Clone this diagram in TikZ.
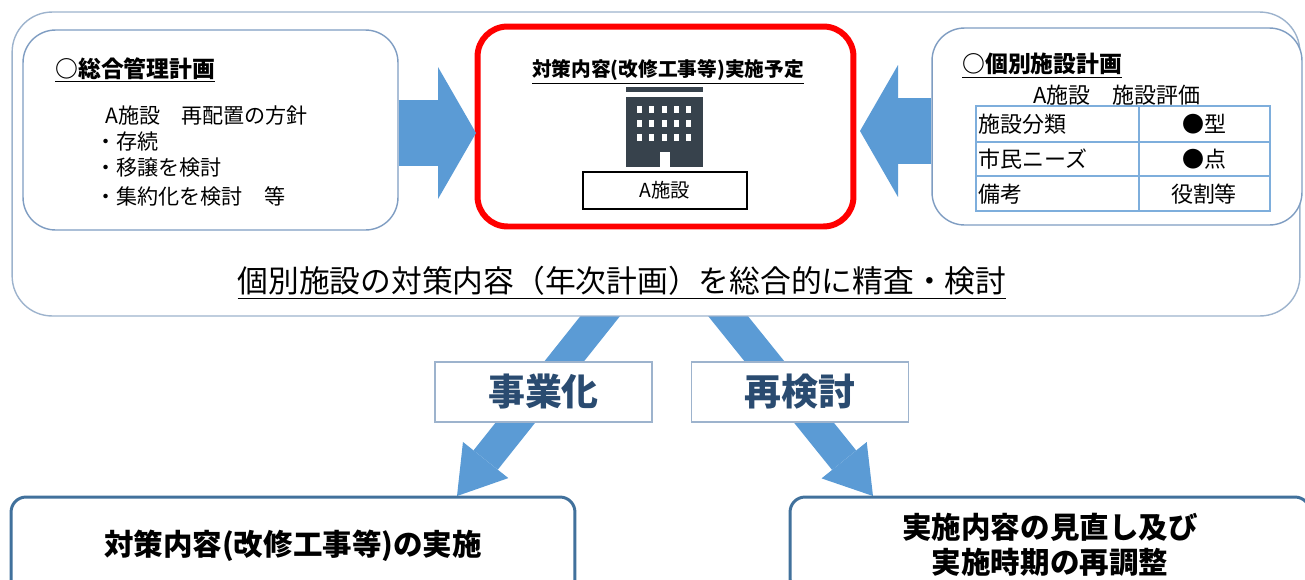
\documentclass[tikz,border=0pt]{standalone}
\usepackage{fontspec}
\setmainfont{Noto Sans CJK JP}
\usetikzlibrary{arrows.meta}
\usetikzlibrary{shapes}
\usetikzlibrary{backgrounds}

\definecolor{frameblue}{HTML}{9DB3CD}
\definecolor{planblue}{HTML}{7F9DC2}
\definecolor{arrowblue}{HTML}{5B9BD5}
\definecolor{tableblue}{HTML}{7EAEDC}
\definecolor{labelnavy}{HTML}{2A4B70}
\definecolor{boxblue}{HTML}{41719C}
\definecolor{iconslate}{HTML}{37424C}

\begin{document}
\begin{tikzpicture}[x = 0.02cm, y = -0.02cm]
	\tikzstyle{frameStyle} = [draw = frameblue, line width = 0.8pt, fill = white, rounded corners = 0.8cm, inner sep = 0]
	\tikzstyle{planStyle} = [draw = planblue, line width = 0.8pt, fill = white, rounded corners = 0.65cm, inner sep = 0]
	\tikzstyle{redStyle} = [draw = red, line width = 3.4pt, fill = white, rounded corners = 0.6cm, inner sep = 0]
	\tikzstyle{tagStyle} = [draw = frameblue, line width = 0.8pt, fill = white, inner sep = 0, minimum width = 4.34cm, minimum height = 1.2cm, text = labelnavy, font = \fontsize{21}{25}\selectfont\bfseries]
	\tikzstyle{resultStyle} = [draw = boxblue, line width = 1.7pt, fill = white, rounded corners = 0.3cm, inner sep = 0, align = center, font = \fontsize{16.8}{20}\selectfont\bfseries]
	\tikzstyle{textStyle} = [inner sep = 0, anchor = west]
	\tikzstyle{bigArrow} = [arrowblue, line width = 1.32cm, -{Triangle[length = 0.76cm, width = 2.64cm, line width = 0pt]}]
	\tikzstyle{downArrow} = [arrowblue, line width = 0.62cm, -{Triangle[length = 0.92cm, width = 1.16cm, line width = 0pt]}]
	\useasboundingbox (0,0) rectangle (1305,579);
	\clip (0,0) rectangle (1305,579);
	\node[frameStyle, minimum width = 25.76cm, minimum height = 6.08cm] (review) at (656,164) {};
	\node[planStyle, minimum width = 7.5cm, minimum height = 4.0cm] (lplan) at (210.5,130) {};
	\node[redStyle, minimum width = 7.52cm, minimum height = 4.0cm] (plan) at (665.5,126.5) {};
	\node[planStyle, minimum width = 7.4cm, minimum height = 3.94cm] (iplan) at (1117,126.5) {};
	\node[textStyle, font = \fontsize{13}{15}\selectfont\bfseries] (lplanTitle) at (55,70) {\underline{○総合管理計画}};
	\node[textStyle, font = \fontsize{12}{14}\selectfont] (policy) at (105,115) {A施設　再配置の方針};
	\node[textStyle, font = \fontsize{12}{14}\selectfont] (keep) at (95,141) {・存続};
	\node[textStyle, font = \fontsize{12}{14}\selectfont] (transfer) at (95,168) {・移譲を検討};
	\node[textStyle, font = \fontsize{12}{14}\selectfont] (merge) at (95,196) {・集約化を検討　等};
	\node[inner sep = 0, font = \fontsize{11.2}{13}\selectfont\bfseries] (planTitle) at (668,72) {\underline{対策内容(改修工事等)実施予定}};
	\fill[iconslate] (626,87) rectangle (703,91.5);
	\fill[iconslate] (626,97) rectangle (703,167);
	\foreach \i in {0,...,4}
		\foreach \j in {0,...,2}
			\fill[white] (637+12.3*\i,106+14*\j) rectangle ++(5,7);
	\fill[white] (659.5,152) rectangle (670,167.5);
	\node[draw, line width = 0.6pt, inner sep = 0, minimum width = 3.28cm, minimum height = 0.74cm, font = \fontsize{11}{13}\selectfont] (facility) at (665,190.5) {A施設};
	\node[textStyle, font = \fontsize{13}{15}\selectfont\bfseries] (iplanTitle) at (962,66) {\underline{○個別施設計画}};
	\node[inner sep = 0, font = \fontsize{12.5}{14}\selectfont] (rating) at (1117,95) {A施設　施設評価};
	\draw[tableblue, line width = 0.9pt] (976,106) rectangle (1270,211);
	\draw[tableblue, line width = 0.9pt] (976,142) -- (1270,142);
	\draw[tableblue, line width = 0.9pt] (976,176) -- (1270,176);
	\draw[tableblue, line width = 0.9pt] (1139,106) -- (1139,211);
	\node[textStyle, font = \fontsize{12.5}{14}\selectfont] (kindKey) at (978,124) {施設分類};
	\node[textStyle, font = \fontsize{12.5}{14}\selectfont] (needKey) at (978,159) {市民ニーズ};
	\node[textStyle, font = \fontsize{12.5}{14}\selectfont] (noteKey) at (978,194) {備考};
	\node[inner sep = 0, font = \fontsize{12.5}{14}\selectfont] (kindVal) at (1204,124) {●型};
	\node[inner sep = 0, font = \fontsize{12.5}{14}\selectfont] (needVal) at (1204,159) {●点};
	\node[inner sep = 0, font = \fontsize{12.5}{14}\selectfont] (noteVal) at (1204,194) {役割等};
	\node[inner sep = 0, font = \fontsize{17.5}{20}\selectfont] (reviewText) at (622,283) {\underline{個別施設の対策内容（年次計画）を総合的に精査・検討}};
	\coordinate (tipA) at (476,133);
	\coordinate (tipB) at (860,131);
	\draw[bigArrow] (lplan.east |- tipA) -- (tipA);
	\draw[bigArrow] (iplan.west |- tipB) -- (tipB);
	\node[tagStyle] (jigyo) at (543.5,392) {事業化};
	\node[tagStyle] (saiken) at (800,392) {再検討};
	\node[resultStyle, minimum width = 11.28cm, minimum height = 1.96cm] (execute) at (293,546) {対策内容(改修工事等)の実施};
	\node[resultStyle, minimum width = 10.4cm, minimum height = 1.92cm] (adjust) at (1050,545) {実施内容の見直し及び\\実施時期の再調整};
	\coordinate (startL) at (621,290);
	\coordinate (startR) at (707,290);
	\coordinate (tipL) at (457,496);
	\coordinate (tipR) at (873,496);
	\begin{scope}[on background layer]
		\draw[downArrow] (startL) -- (tipL);
		\draw[downArrow] (startR) -- (tipR);
	\end{scope}
\end{tikzpicture}
\end{document}
